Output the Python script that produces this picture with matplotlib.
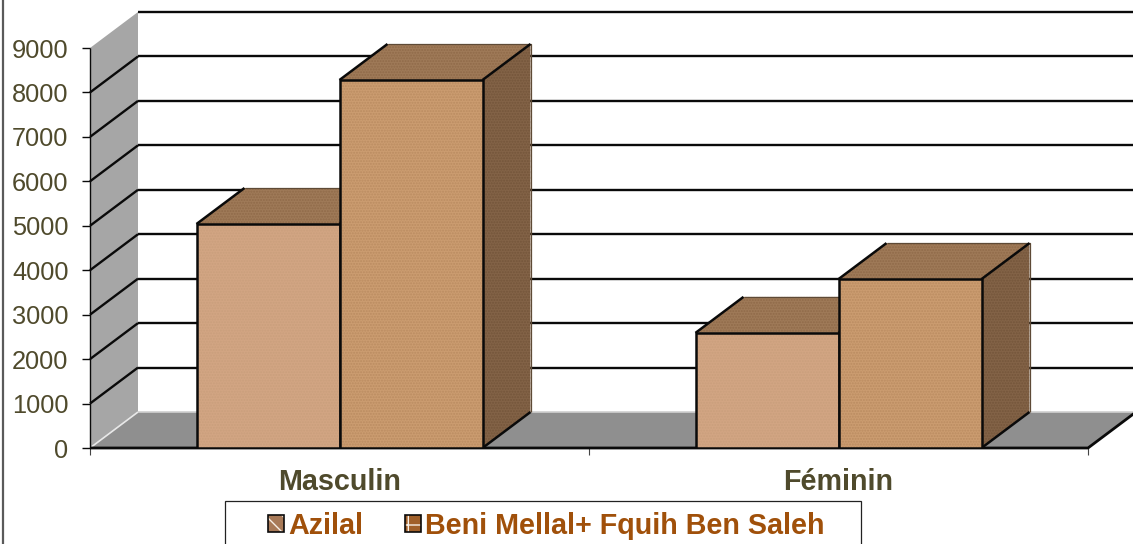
import matplotlib
matplotlib.use("Agg")
import matplotlib.pyplot as plt
from matplotlib.patches import Polygon, Patch, Rectangle
from matplotlib.legend_handler import HandlerPatch

categories = ["Masculin", "Féminin"]
series_names = ["Azilal", "Beni Mellal+ Fquih Ben Saleh"]
azilal = [5040, 2590]
beni_mellal = [8280, 3800]
y_ticks = list(range(0, 10000, 1000))

W, H = 1133, 544
plt.rcParams["font.family"] = ["Liberation Sans", "DejaVu Sans"]
fig = plt.figure(figsize=(W / 100, H / 100), dpi=100, facecolor="white")
ax = fig.add_axes([90 / W, 1 - 448 / H, 998 / W, 400 / H])
ax.set_xlim(0, 2)
ax.set_ylim(0, 9000)
ax.patch.set_visible(False)
for s in ax.spines.values():
    s.set_visible(False)

DX = 48 / 499
DY = 36 / 400 * 9000
BAR_W = 143 / 499
BLACK = "#0a0a0a"


def poly(pts, fc, z=1, hatch=None, hatch_col=None):
    ax.add_patch(Polygon(pts, closed=True, facecolor=fc, edgecolor="none", linewidth=0,
                         zorder=z, clip_on=False))
    if hatch:
        ax.add_patch(Polygon(pts, closed=True, facecolor="none", edgecolor=hatch_col,
                             hatch=hatch, linewidth=0, alpha=0.4, zorder=z, clip_on=False))


def seg(xs, ys, z, color=BLACK, lw=1.8):
    ax.plot(xs, ys, color=color, lw=lw, zorder=z, clip_on=False, solid_capstyle="butt")


# walls and floor
poly([(0, 0), (DX, DY), (DX, 9000 + DY), (0, 9000)], "#a6a6a6", z=1)
poly([(0, 0), (2, 0), (2 + DX, DY), (DX, DY)], "#8f8f8f", z=1)
seg([0, DX], [0, DY], 1.5, "#e8e8e8", 1.2)
seg([DX, 2 + DX], [DY, DY], 1.5, "#d0d0d0", 1.2)

# gridlines
for v in y_ticks[1:]:
    seg([DX, 2 + DX], [v + DY, v + DY], 2, BLACK, 1.7)
    if v < 9000:
        seg([0, DX], [v, v + DY], 2, BLACK, 1.7)

# floor front and right edges, y axis
seg([0, 2, 2 + DX], [0, 0, DY], 2.5, BLACK, 2.0)
seg([0, 0], [0, 9000], 2.5, BLACK, 1.0)


def bar3d(x0, v, front, hatch_col, top, side, z):
    x1 = x0 + BAR_W
    poly([(x1, 0), (x1 + DX, DY), (x1 + DX, v + DY), (x1, v)], side, z, "......", "#5f4228")
    poly([(x0, v), (x1, v), (x1 + DX, v + DY), (x0 + DX, v + DY)], top, z, "......", "#7a5434")
    seg([x0 + DX, x1 + DX, x1 + DX], [v + DY, v + DY, DY], z + 0.05, "#5e4a36", 0.9)
    seg([x0, x0 + DX], [v, v + DY], z + 0.1, BLACK, 1.8)
    seg([x1, x1 + DX], [v, v + DY], z + 0.1, BLACK, 1.8)
    seg([x1, x1 + DX], [0, DY], z + 0.1, BLACK, 1.8)
    ax.bar(x0, v, BAR_W, align="edge", color=front, linewidth=0, zorder=z + 0.2)
    ax.bar(x0, v, BAR_W, align="edge", facecolor="none", edgecolor=hatch_col,
           hatch="......", linewidth=0, zorder=z + 0.3, alpha=0.45)
    ax.bar(x0, v, BAR_W, align="edge", facecolor="none", edgecolor=BLACK,
           linewidth=1.8, zorder=z + 0.4)


C1 = "#d2a583"
C2 = "#cb9c70"
TOP = "#9f7a58"
SIDE = "#836347"
for i in range(len(categories)):
    x_center = i + 0.5
    bar3d(x_center - BAR_W, azilal[i], C1, "#c09874", TOP, SIDE, 3 + i * 2)
    bar3d(x_center, beni_mellal[i], C2, "#a87a50", TOP, SIDE, 4 + i * 2)

# axes ticks and labels
ax.set_yticks(y_ticks)
ax.set_xticks([0, 1, 2])
ax.set_xticklabels([])
ax.tick_params(axis="y", length=5.5, width=1.0, color=BLACK, pad=10,
               labelsize=18.3, labelcolor="#4f4a2c")
ax.tick_params(axis="x", length=5, width=0.8, color="#444444")
for i, name in enumerate(categories):
    ax.annotate(name, xy=(i + 0.5, 0), xycoords="data", xytext=(0, -34),
                textcoords="offset pixels",
                ha="center", va="center", fontsize=20.7, fontweight="bold", color="#4f4a2c")

# figure border, left side
fig.add_artist(plt.Line2D([3 / W, 3 / W], [0, 1], color="#5a5a5a", lw=1.6))

# legend box, running past the bottom edge of the picture
fig.add_artist(Rectangle((225 / W, -0.05), 636 / W, 1 - 501 / H + 0.05,
                         transform=fig.transFigure, facecolor="white",
                         edgecolor="#222222", linewidth=0.9))


class TwoLayerHandler(HandlerPatch):
    def create_artists(self, legend, orig, xd, yd, w, h, fs, trans):
        base = Rectangle((-xd, -yd), w, h, facecolor=orig.get_facecolor(),
                         hatch=orig.get_hatch(), edgecolor="#f7efe6", linewidth=0,
                         transform=trans)
        outline = Rectangle((-xd, -yd), w, h, fill=False, edgecolor=BLACK,
                            linewidth=1.2, transform=trans)
        return [base, outline]


handles = [Patch(facecolor="#a87a58", hatch="\\\\"),
           Patch(facecolor="#a0602a", hatch="+")]
leg = fig.legend(handles, series_names, ncol=2, loc="center left",
                 bbox_to_anchor=(268 / W, 1 - 526 / H), bbox_transform=fig.transFigure,
                 frameon=False, borderaxespad=0, borderpad=0,
                 prop={"size": 20.7, "weight": "bold"},
                 handlelength=0.55, handleheight=0.55, handletextpad=0.15,
                 columnspacing=1.46, labelcolor="#a0500a",
                 handler_map={Patch: TwoLayerHandler()})
leg.set_zorder(10)

fig.savefig("out.png", dpi=100)
